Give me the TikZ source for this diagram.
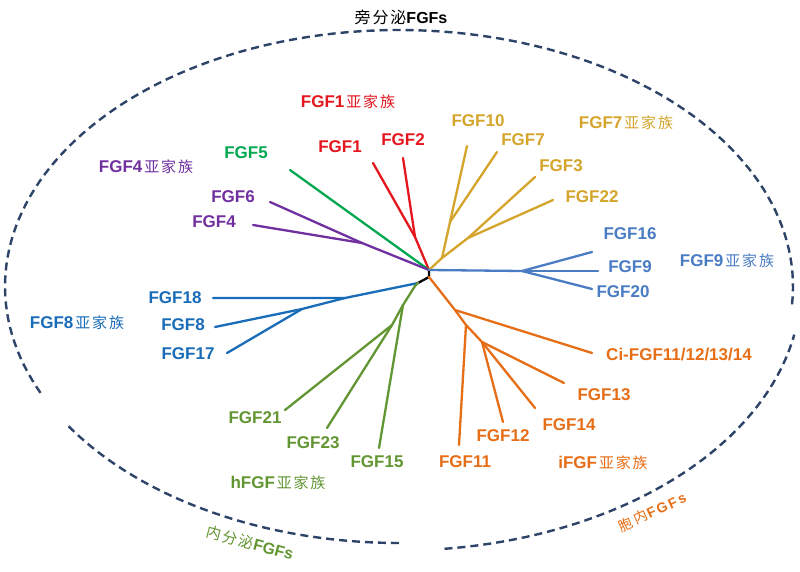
\documentclass[tikz,border=0pt]{standalone}
\usepackage{fontspec}
\setmainfont{Liberation Sans}
\newfontfamily\cjk[LetterSpace=12]{Noto Sans CJK SC}
\newfontfamily\cjkwide[LetterSpace=25]{Noto Sans CJK SC}
\newfontfamily\latwide[LetterSpace=14]{Liberation Sans}
\definecolor{cred}{RGB}{228,22,30}
\definecolor{cgold}{RGB}{212,165,42}
\definecolor{cblueA}{RGB}{74,124,196}
\definecolor{cblueB}{RGB}{24,108,184}
\definecolor{corange}{RGB}{230,110,22}
\definecolor{cgreenA}{RGB}{98,150,50}
\definecolor{cpurple}{RGB}{112,48,160}
\definecolor{cgreenB}{RGB}{0,168,80}
\definecolor{cnavy}{RGB}{45,68,104}
\newcommand{\yjz}{\hspace{2pt}{\cjk\mdseries\fontsize{15}{15}\selectfont 亚家族}}
\begin{document}
\begin{tikzpicture}[x=1pt,y=-1pt,
  lab/.style={font=\fontsize{17}{17}\selectfont\bfseries, inner sep=0pt, anchor=center},
  fam/.style={font=\fontsize{17}{17}\selectfont\bfseries, inner sep=0pt, anchor=center},
  br/.style={line width=2.3pt, line cap=round, line join=round},
  arcline/.style={cnavy, line width=2.4pt, dash pattern=on 8pt off 5pt},
  grp/.style={font=\fontsize{16}{16}\selectfont\bfseries, inner sep=0pt}
]
\useasboundingbox (0,0) rectangle (800,572);
\fill[white] (0,0) rectangle (800,572);

% ellipse arcs
\draw[arcline] plot[domain=-4:205, samples=120] ({399+394*cos(\x)}, {286.5-256.5*sin(\x)});
\draw[arcline] plot[domain=213:270.5, samples=60] ({399+394*cos(\x)}, {286.5-256.5*sin(\x)});
\draw[arcline] plot[domain=276.5:349.5, samples=80] ({399+402*cos(\x)}, {286.5-264*sin(\x)});

\node[grp, black] (tTop) at (401,17) {{\cjk\mdseries 旁分泌}FGFs};
\node[grp, cgreenA, rotate=-15] (tEndo) at (250,543) {{\cjk\mdseries\fontsize{15}{15}\selectfont 内分泌}FGFs};
\node[grp, corange, rotate=25] (tIntra) at (652,512) {{\cjkwide\mdseries\fontsize{14}{14}\selectfont 胞内}{\latwide\fontsize{14}{14}\selectfont FGFs}};

% tree internal coordinates
\coordinate (R) at (429,270);
\coordinate (O) at (429,277);
\coordinate (B) at (418,283);

% black stem
\draw[br, black] (R) -- (O) -- (B);

% red FGF1 subfamily
\coordinate (r1) at (415,237);
\coordinate (lFGF1) at (373,163);
\coordinate (lFGF2) at (403,158);
\draw[br, cred] (R) -- (r1) -- (lFGF1);
\draw[br, cred] (r1) -- (lFGF2);
\node[lab, cred] (nFGF1) at (340,147) {FGF1};
\node[lab, cred] (nFGF2) at (403,140) {FGF2};
\node[fam, cred] (fFGF1) at (348,102) {FGF1\yjz};

% green FGF5
\coordinate (lFGF5) at (290,170);
\draw[br, cgreenB] (R) -- (lFGF5);
\node[lab, cgreenB] (nFGF5) at (246,153) {FGF5};

% purple FGF4 subfamily
\coordinate (p1) at (362,243);
\coordinate (lFGF6) at (270,202);
\coordinate (lFGF4) at (253,225);
\draw[br, cpurple] (R) -- (p1) -- (lFGF6);
\draw[br, cpurple] (p1) -- (lFGF4);
\node[lab, cpurple] (nFGF6) at (233,197) {FGF6};
\node[lab, cpurple] (nFGF4) at (214,222) {FGF4};
\node[fam, cpurple] (fFGF4) at (146,167) {FGF4\yjz};

% gold FGF7 subfamily
\coordinate (y0) at (442,258);
\coordinate (y1) at (450,222);
\coordinate (y2) at (468,238);
\coordinate (lFGF10) at (467,146);
\coordinate (lFGF7) at (497,152);
\coordinate (lFGF3) at (535,177);
\coordinate (lFGF22) at (553,200);
\draw[br, cgold] (R) -- (y0) -- (y1) -- (lFGF10);
\draw[br, cgold] (y1) -- (lFGF7);
\draw[br, cgold] (y0) -- (y2) -- (lFGF3);
\draw[br, cgold] (y2) -- (lFGF22);
\node[lab, cgold] (nFGF10) at (478,121) {FGF10};
\node[lab, cgold] (nFGF7) at (523,140) {FGF7};
\node[lab, cgold] (nFGF3) at (561,166) {FGF3};
\node[lab, cgold] (nFGF22) at (592,197) {FGF22};
\node[fam, cgold] (fFGF7) at (626,123) {FGF7\yjz};

% blue FGF9 subfamily
\coordinate (b9) at (522,271);
\coordinate (lFGF16) at (592,252);
\coordinate (lFGF9) at (598,271);
\coordinate (lFGF20) at (592,289);
\draw[br, cblueA] (R) -- (b9) -- (lFGF16);
\draw[br, cblueA] (b9) -- (lFGF9);
\draw[br, cblueA] (b9) -- (lFGF20);
\node[lab, cblueA] (nFGF16) at (630,234) {FGF16};
\node[lab, cblueA] (nFGF9) at (630,267) {FGF9};
\node[lab, cblueA] (nFGF20) at (623,292) {FGF20};
\node[fam, cblueA] (fFGF9) at (727,261) {FGF9\yjz};

% blue FGF8 subfamily
\coordinate (b8a) at (345,298);
\coordinate (b8b) at (302,309);
\coordinate (lFGF18) at (213,298);
\coordinate (lFGF8) at (215,327);
\coordinate (lFGF17) at (227,353);
\draw[br, cblueB] (B) -- (b8a) -- (lFGF18);
\draw[br, cblueB] (b8a) -- (b8b) -- (lFGF8);
\draw[br, cblueB] (b8b) -- (lFGF17);
\node[lab, cblueB] (nFGF18) at (175,298) {FGF18};
\node[lab, cblueB] (nFGF8) at (183,325) {FGF8};
\node[lab, cblueB] (nFGF17) at (188,354) {FGF17};
\node[fam, cblueB] (fFGF8) at (77,323) {FGF8\yjz};

% green hFGF subfamily
\coordinate (g0) at (415,286);
\coordinate (g1) at (403,305);
\coordinate (g2) at (392,325);
\coordinate (lFGF21) at (285,410);
\coordinate (lFGF23) at (327,428);
\coordinate (lFGF15) at (379,448);
\draw[br, cgreenA] (B) -- (g0) -- (g1) -- (lFGF15);
\draw[br, cgreenA] (g1) -- (g2) -- (lFGF21);
\draw[br, cgreenA] (g2) -- (lFGF23);
\node[lab, cgreenA] (nFGF21) at (255,418) {FGF21};
\node[lab, cgreenA] (nFGF23) at (313,443) {FGF23};
\node[lab, cgreenA] (nFGF15) at (377,462) {FGF15};
\node[fam, cgreenA] (fh) at (278,483) {hFGF\yjz};

% orange iFGF subfamily
\coordinate (o1) at (455,310);
\coordinate (o2) at (466,325);
\coordinate (o3) at (482,342);
\coordinate (lCi) at (592,353);
\coordinate (lFGF11) at (459,445);
\coordinate (lFGF12) at (503,422);
\coordinate (lFGF14) at (535,408);
\coordinate (lFGF13) at (564,383);
\draw[br, corange] (O) -- (o1) -- (lCi);
\draw[br, corange] (o1) -- (o2) -- (lFGF11);
\draw[br, corange] (o2) -- (o3) -- (lFGF12);
\draw[br, corange] (o3) -- (lFGF14);
\draw[br, corange] (o3) -- (lFGF13);
\node[lab, corange] (nCi) at (679,355) {Ci-FGF11/12/13/14};
\node[lab, corange] (nFGF13) at (604,395) {FGF13};
\node[lab, corange] (nFGF14) at (569,425) {FGF14};
\node[lab, corange] (nFGF12) at (503,436) {FGF12};
\node[lab, corange] (nFGF11) at (465,462) {FGF11};
\node[fam, corange] (fi) at (603,463) {iFGF\yjz};
\end{tikzpicture}
\end{document}
